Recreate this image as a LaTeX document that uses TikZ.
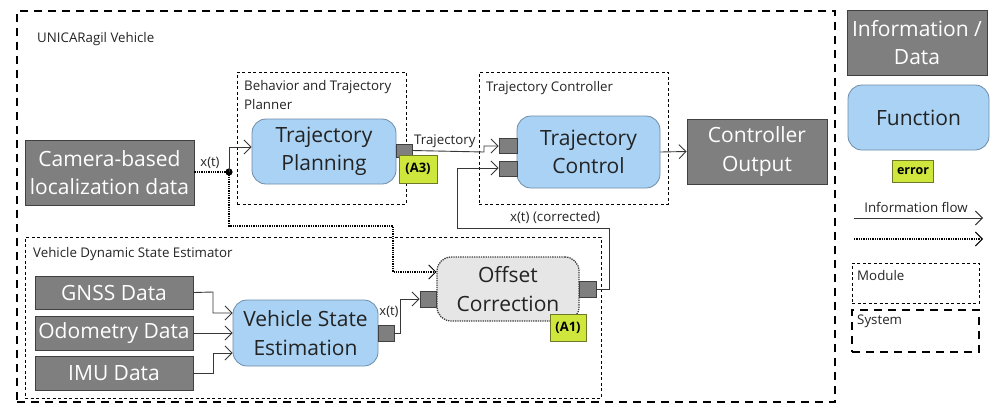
\documentclass[tikz,border=0pt]{standalone}
\usepackage{fontspec}
\setmainfont{Open Sans}
\usetikzlibrary{arrows.meta,calc}
\definecolor{datagray}{RGB}{127,127,127}
\definecolor{edgegray}{RGB}{64,64,64}
\definecolor{funcblue}{RGB}{169,210,244}
\definecolor{funcedge}{RGB}{110,140,170}
\definecolor{errgreen}{RGB}{207,230,60}
\definecolor{erredge}{RGB}{110,120,40}
\definecolor{offsetgray}{RGB}{230,230,230}
\definecolor{wiregray}{RGB}{55,55,55}
\definecolor{textdark}{RGB}{35,35,35}
\begin{document}
\begin{tikzpicture}[x=1pt,y=-1pt,
  bigtext/.style={font=\fontsize{21}{28.5}\selectfont},
  smalltext/.style={font=\fontsize{13.3}{19.5}\selectfont, text=textdark, inner sep=0pt},
  databox/.style={draw=edgegray, fill=datagray, text=white, bigtext, align=center, inner sep=0pt, line width=0.8pt},
  funcbox/.style={draw=funcedge, fill=funcblue, text=textdark, bigtext, align=center, inner sep=0pt, rounded corners=14pt, line width=0.8pt},
  offsetbox/.style={draw=edgegray, fill=offsetgray, text=textdark, bigtext, align=center, inner sep=0pt, rounded corners=14pt, line width=1.3pt, densely dotted},
  portbox/.style={draw=edgegray, fill=datagray, inner sep=0pt, line width=0.8pt},
  errbox/.style={draw=erredge, fill=errgreen, text=black, font=\fontsize{13}{15}\selectfont\bfseries, inner sep=0pt, line width=0.8pt},
  modulebox/.style={draw=black, dash pattern=on 3pt off 2.5pt, line width=0.9pt, inner sep=0pt},
  systembox/.style={draw=black, dash pattern=on 8pt off 6pt, line width=2pt, inner sep=0pt},
  wire/.style={draw=wiregray, line width=0.9pt, -{Straight Barb[length=7pt,width=14pt,line width=0.9pt]}},
  dotwire/.style={draw=black, line width=1.3pt, densely dotted},
  dotarrow/.style={dotwire, -{Straight Barb[length=7pt,width=14pt,line width=0.9pt,line cap=butt]}},
]
\useasboundingbox (0,0) rectangle (990,405);

% ---- system and modules ----
\node[systembox, minimum width=818pt, minimum height=391pt] (sys) at (426,206.5) {};
\node[smalltext, anchor=west] (syslbl) at (37,39) {UNICARagil Vehicle};

\node[modulebox, minimum width=169pt, minimum height=132pt] (planmod) at (321.5,138) {};
\node[smalltext, anchor=north west, align=left] (planlbl) at (244,80) {Behavior and Trajectory\\Planner};

\node[modulebox, minimum width=189pt, minimum height=132pt] (ctrlmod) at (573.5,138) {};
\node[smalltext, anchor=west] (ctrllbl) at (486,88) {Trajectory Controller};

\node[modulebox, minimum width=576pt, minimum height=161pt] (estmod) at (313,317.5) {};
\node[smalltext, anchor=west] (estlbl) at (33,254) {Vehicle Dynamic State Estimator};

% ---- data and functions ----
\node[databox, minimum width=169pt, minimum height=65pt] (cam) at (109.5,172.5) {Camera-based\\localization data};

\node[funcbox, minimum width=144pt, minimum height=65pt] (tp) at (324,151.5) {Trajectory\\Planning};
\node[portbox, minimum width=16pt, minimum height=13pt] (tpout) at (404,150.5) {};
\node[errbox, minimum width=38pt, minimum height=28pt] (a3) at (418,169) {(A3)};

\node[funcbox, minimum width=143pt, minimum height=72pt] (tc) at (588.5,152) {Trajectory\\Control};
\node[portbox, minimum width=18pt, minimum height=15pt] (tcin1) at (508,145.5) {};
\node[portbox, minimum width=18pt, minimum height=15pt] (tcin2) at (508,168.5) {};

\node[databox, minimum width=140pt, minimum height=65pt] (co) at (757,151.5) {Controller\\Output};

\node[databox, minimum width=158pt, minimum height=33pt] (gnss) at (114,292.5) {GNSS Data};
\node[databox, minimum width=158pt, minimum height=34pt] (odo) at (114,333) {Odometry Data};
\node[databox, minimum width=158pt, minimum height=34pt] (imu) at (114,373) {IMU Data};

\node[funcbox, minimum width=145pt, minimum height=66pt] (vse) at (305.5,333) {Vehicle State\\Estimation};
\node[portbox, minimum width=16pt, minimum height=16pt] (vseout) at (386,333) {};

\node[offsetbox, minimum width=142pt, minimum height=64pt] (oc) at (508,289) {Offset\\Correction};
\node[portbox, minimum width=16pt, minimum height=16pt] (ocin) at (428,299) {};
\node[portbox, minimum width=17pt, minimum height=16pt] (ocout) at (587.5,289) {};
\node[errbox, minimum width=36pt, minimum height=27pt] (a1) at (568,327.5) {(A1)};

% ---- connectors ----
\coordinate (split) at (229,172);
\draw[dotwire] (cam.east |- split) -- (split);
\fill[black] (split) circle (3.6pt);
\draw[wire] (split) -- (229,147) -- (tp.west |- 0,147);
\draw[dotarrow] (split) -- (229,226) -- (393,226) -- (393,272) -- (oc.west |- 0,272);
\node[smalltext, font=\fontsize{13}{15}\selectfont] (xt1) at (210,163) {x(t)};

\draw[wire] (tpout.east) -- (484,152) -- (484,146) -- (tcin1.west |- 0,146);
\node[smalltext, anchor=west] (trajlbl) at (414,141) {Trajectory};

\draw[wire] (tc.east) -- (co.west);

\draw[wire] (ocout.east) -- (609,289) -- (609,228) -- (457,228) -- (457,168) -- (tcin2.west |- 0,168);
\node[smalltext] (corrlbl) at (555,217) {x(t) (corrected)};

\draw[wire] (gnss.east) -- (213,292) -- (213,313) -- (vse.west |- 0,313);
\draw[wire] (odo.east) -- (vse.west);
\draw[wire] (imu.east) -- (213,373) -- (213,353) -- (vse.west |- 0,353);

\draw[wire] (vseout.east) -- (400,333) -- (400,299) -- (ocin.west);
\node[smalltext, font=\fontsize{13}{15}\selectfont] (xt2) at (389,312) {x(t)};

% ---- legend ----
\node[databox, minimum width=140pt, minimum height=65pt] (lgdata) at (917,42.5) {Information /\\Data};
\node[funcbox, minimum width=141pt, minimum height=65pt] (lgfunc) at (918.5,117.5) {Function};
\node[errbox, font=\fontsize{12.5}{14}\selectfont\bfseries, minimum width=41pt, minimum height=22pt] (lgerr) at (913,171) {error};
\node[smalltext] (lgflow) at (916,207) {Information flow};
\coordinate (lgs1) at (854,218);
\coordinate (lge1) at (983,218);
\draw[wire] (lgs1) -- (lge1);
\coordinate (lgs2) at (854,239);
\coordinate (lge2) at (983,239);
\draw[dotarrow] (lgs2) -- (lge2);
\node[modulebox, minimum width=127pt, minimum height=40pt] (lgmod) at (915.5,283) {};
\node[smalltext, anchor=west] (lgmodlbl) at (857,276) {Module};
\node[systembox, minimum width=127pt, minimum height=42pt] (lgsys) at (915.5,331) {};
\node[smalltext, anchor=west] (lgsyslbl) at (857,321) {System};
\end{tikzpicture}
\end{document}
